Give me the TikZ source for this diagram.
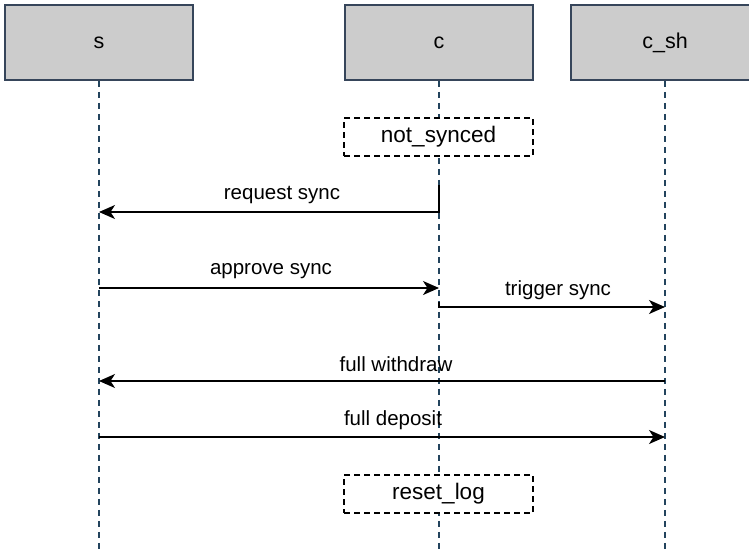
\documentclass[tikz,border=0pt]{standalone}
\usepackage{fontspec}
\setmainfont{Liberation Sans}
\usetikzlibrary{arrows.meta}
\definecolor{headfill}{HTML}{CCCCCC}
\definecolor{headline}{HTML}{36455A}
\definecolor{lifeline}{HTML}{23445D}
\tikzset{
  head/.style={draw=headline, fill=headfill, line width=1.5pt,
    minimum width=188pt, minimum height=75pt, inner sep=0pt,
    font=\fontsize{21.5}{25}\selectfont},
  life/.style={draw=lifeline, line width=1.4pt, dash pattern=on 6pt off 5pt},
  statebox/.style={draw=black, line width=1.4pt, dash pattern=on 6pt off 4pt,
    minimum width=189pt, minimum height=38pt, inner sep=0pt, fill=white,
    font=\fontsize{22.5}{26}\selectfont},
  msg/.style={draw=black, line width=1.6pt,
    -{Stealth[length=16pt, width=14pt, inset=4.5pt]}},
  msglabel/.style={font=\fontsize{20.5}{24}\selectfont, inner sep=0pt}
}
\begin{document}
\begin{tikzpicture}[x=1pt, y=-1pt]
\useasboundingbox (0,0) rectangle (749,551);
\clip (0,0) rectangle (749,551);

% participant heads
\node[head] (s)   at (99,42.5)  {s};
\node[head] (c)   at (439,42.5) {c};
\node[head] (csh) at (665,42.5) {c\_sh};

% lifeline ends
\coordinate (sEnd)   at (99,551);
\coordinate (cEnd)   at (439,551);
\coordinate (cshEnd) at (665,551);

\draw[life] (s.south) -- (sEnd);
\draw[life] (c.south) -- (cEnd);
\draw[life] (csh.south) -- (cshEnd);

% state boxes on the c lifeline
\node[statebox] (ns) at (438.5,137) {not\_synced};
\node[statebox] (rl) at (438.5,494) {reset\_log};

% message anchor points on the lifelines
\coordinate (rqA) at (439,185);
\coordinate (rqB) at (439,212);
\coordinate (rqS) at (99,212);
\coordinate (apS) at (99,288);
\coordinate (apC) at (439,288);
\coordinate (trA) at (439,302);
\coordinate (trB) at (439,307);
\coordinate (trE) at (665,307);
\coordinate (fwE) at (665,381);
\coordinate (fwS) at (99,381);
\coordinate (fdS) at (99,437);
\coordinate (fdE) at (665,437);

% messages
\draw[msg] (rqA) -- (rqB) -- (rqS);
\draw[msg] (apS) -- (apC);
\draw[msg] (trA) -- (trB) -- (trE);
\draw[msg] (fwE) -- (fwS);
\draw[msg] (fdS) -- (fdE);

% message labels
\node[msglabel] (lrq) at (282,195) {request sync};
\node[msglabel] (lap) at (271,271) {approve sync};
\node[msglabel] (ltr) at (558,290) {trigger sync};
\node[msglabel] (lfw) at (396,364) {full withdraw};
\node[msglabel] (lfd) at (393,420) {full deposit};
\end{tikzpicture}
\end{document}
